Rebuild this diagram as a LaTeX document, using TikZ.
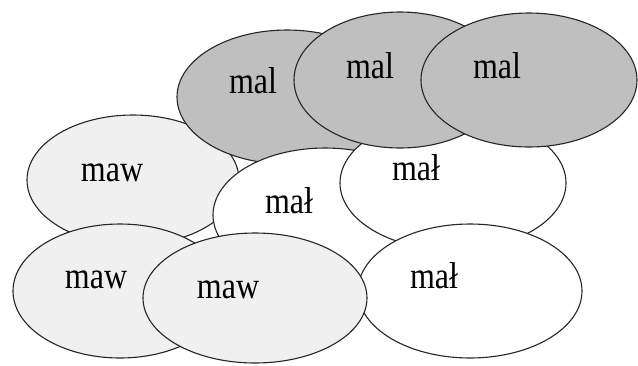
\documentclass[tikz,border=0pt]{standalone}
\usepackage{fontspec}
\setmainfont{Liberation Serif}
\usetikzlibrary{shapes.geometric}
\definecolor{darkfill}{HTML}{BFBFBF}
\definecolor{lightfill}{HTML}{F0F0F0}
\tikzset{
  oval/.style={ellipse, draw=black!85, line width=1.1pt, inner sep=0pt, outer sep=0pt},
  darkoval/.style={oval, fill=darkfill},
  lightoval/.style={oval, fill=lightfill},
  whiteoval/.style={oval, fill=white},
  lbl/.style={anchor=base, inner sep=0pt, font=\fontsize{32}{36}\selectfont}
}
\newcommand{\tall}[1]{\scalebox{1}[1.17]{#1}}
\begin{document}
\begin{tikzpicture}[x=1pt, y=-1pt]
\useasboundingbox (0,0) rectangle (638,365);
% back to front
\node[lightoval, minimum width=212pt, minimum height=130pt] (a) at (133,180) {};
\node[lbl] (at) at (112,181) {\tall{maw}};
\node[darkoval, minimum width=220pt, minimum height=134pt] (b) at (287,97) {};
\node[lbl] (bt) at (253,93) {\tall{mal}};
\node[whiteoval, minimum width=224pt, minimum height=134pt] (c) at (325,215) {};
\node[lbl] (ct) at (289,213) {\tall{mał}};
\node[whiteoval, minimum width=226pt, minimum height=134pt] (d) at (453,183) {};
\node[lbl] (dt) at (416,180) {\tall{mał}};
\node[darkoval, minimum width=212pt, minimum height=136pt] (e) at (400,80) {};
\node[lbl] (et) at (370,78) {\tall{mal}};
\node[darkoval, minimum width=216pt, minimum height=134pt] (f) at (529,80) {};
\node[lbl] (ft) at (497,78) {\tall{mal}};
\node[lightoval, minimum width=214pt, minimum height=134pt] (g) at (120,291) {};
\node[lbl] (gt) at (96,288) {\tall{maw}};
\node[whiteoval, minimum width=224pt, minimum height=134pt] (h) at (470,291) {};
\node[lbl] (ht) at (434,288) {\tall{mał}};
\node[lightoval, minimum width=224pt, minimum height=130pt] (i) at (255,298) {};
\node[lbl] (it) at (228,298) {\tall{maw}};
\end{tikzpicture}
\end{document}
